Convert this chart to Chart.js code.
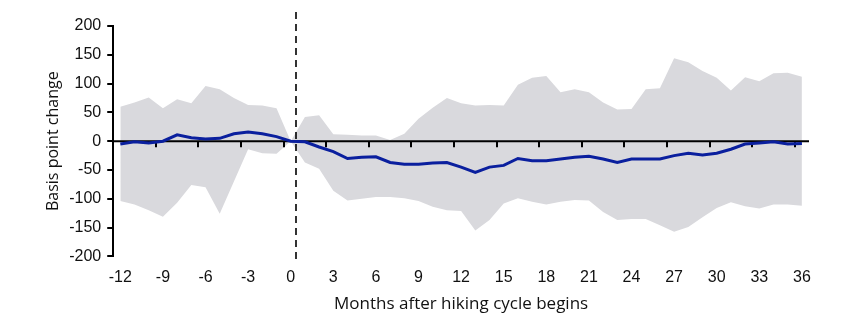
<!DOCTYPE html>
<html>
<head>
<meta charset="utf-8">
<script src="https://cdn.jsdelivr.net/npm/chart.js@4.4.1/dist/chart.umd.min.js"></script>
<style>
  html, body { margin: 0; padding: 0; background: #fff; }
  #wrap { width: 848px; height: 335px; }
</style>
</head>
<body>
<div id="wrap"><canvas id="chart"></canvas></div>
<script>
// months relative to the start of the hiking cycle
const months = [-12, -11, -10, -9, -8, -7, -6, -5, -4, -3, -2, -1, 0,
  1, 2, 3, 4, 5, 6, 7, 8, 9, 10, 11, 12, 13, 14, 15, 16, 17, 18,
  19, 20, 21, 22, 23, 24, 25, 26, 27, 28, 29, 30, 31, 32, 33, 34, 35, 36];
// average change (blue line), basis points
const meanChange = [-5, -1, -3, 0, 11, 6, 4, 5, 13, 16, 13, 8, 0,
  -1, -10, -18, -30, -28, -27, -37, -40, -40, -38, -37, -45, -54, -45, -42, -30, -34, -34,
  -31, -28, -26, -31, -37, -31, -31, -31, -25, -21, -24, -21, -14, -5, -3, -1, -5, -4];
// range across cycles (grey band)
const upperBand = [60, 67, 76, 57, 73, 66, 96, 90, 75, 63, 62, 57, 0,
  42, 45, 12, 11, 10, 10, 2, 13, 39, 58, 75, 66, 62, 63, 62, 98, 110, 113,
  85, 90, 85, 67, 55, 56, 90, 92, 144, 137, 122, 110, 88, 111, 104, 118, 119, 112];
const lowerBand = [-104, -110, -120, -131, -107, -76, -80, -126, -70, -14, -21, -22, 0,
  -37, -48, -86, -103, -100, -97, -97, -99, -104, -114, -120, -121, -155, -137, -108, -99, -105, -110,
  -105, -102, -103, -123, -137, -135, -135, -146, -157, -149, -132, -116, -106, -113, -117, -110, -110, -112];
const xTickLabels = [-12, -9, -6, -3, 0, 3, 6, 9, 12, 15, 18, 21, 24, 27, 30, 33, 36];
const hikeStart = 0.4;

const pts = arr => months.map((m, i) => ({ x: m, y: arr[i] }));
const tickFont = { family: "'Liberation Sans', Arial, sans-serif", size: 16 };
const titleFont = { family: "'Open Sans', 'Liberation Sans', sans-serif", size: 16 };

// zero axis with tick marks between categories, and the dashed marker
const overlay = {
  id: 'overlay',
  beforeDatasetDraw(chart, args) {
    if (args.index !== 0) return;
    const { ctx, chartArea, scales: { x, y } } = chart;
    const y0 = y.getPixelForValue(0);
    ctx.save();
    ctx.strokeStyle = '#000';
    ctx.lineWidth = 2;
    ctx.beginPath();
    ctx.moveTo(chartArea.left, y0);
    ctx.lineTo(chartArea.right, y0);
    ctx.stroke();
    ctx.beginPath();
    xTickLabels.forEach(v => {
      const px = Math.round(x.getPixelForValue(v - 0.5));
      ctx.moveTo(px, y0);
      ctx.lineTo(px, y0 + 6);
    });
    ctx.stroke();
    const xd = Math.round(x.getPixelForValue(hikeStart));
    ctx.setLineDash([7, 5]);
    ctx.lineWidth = 1.6;
    ctx.beginPath();
    ctx.moveTo(xd, chartArea.top - 14);
    ctx.lineTo(xd, chartArea.bottom + 4);
    ctx.stroke();
    ctx.restore();
  }
};

new Chart(document.getElementById('chart'), {
  type: 'line',
  data: {
    datasets: [
      {
        label: 'Average',
        data: pts(meanChange),
        borderColor: '#0a1f9e',
        borderWidth: 3,
        pointRadius: 0,
        fill: false,
        tension: 0
      },
      {
        label: 'Max',
        data: pts(upperBand),
        borderWidth: 0,
        pointRadius: 0,
        backgroundColor: '#d9d9dd',
        fill: '+1',
        tension: 0
      },
      {
        label: 'Min',
        data: pts(lowerBand),
        borderWidth: 0,
        pointRadius: 0,
        fill: false,
        tension: 0
      }
    ]
  },
  options: {
    responsive: true,
    maintainAspectRatio: false,
    animation: false,
    layout: { padding: { top: 26, right: 39, bottom: 21, left: 20 } },
    plugins: { legend: { display: false }, tooltip: { enabled: false } },
    scales: {
      x: {
        type: 'linear',
        min: -12.5,
        max: 36.5,
        afterBuildTicks: scale => { scale.ticks = xTickLabels.map(v => ({ value: v })); },
        grid: { display: false, drawTicks: false },
        border: { display: false },
        ticks: { font: tickFont, color: '#111', padding: 12, maxRotation: 0, autoSkip: false },
        title: { display: true, text: 'Months after hiking cycle begins', font: { ...titleFont, size: 17 }, color: '#111', padding: { top: -6, bottom: 0 } }
      },
      y: {
        min: -200,
        max: 200,
        ticks: { stepSize: 50, font: tickFont, color: '#111', padding: 6 },
        grid: { drawOnChartArea: false, tickLength: 6, color: '#000', lineWidth: 2 },
        border: { color: '#000', width: 2 },
        title: { display: true, text: 'Basis point change', font: titleFont, color: '#111', padding: { top: 24, bottom: 0 } }
      }
    }
  },
  plugins: [overlay]
});
</script>
</body>
</html>
